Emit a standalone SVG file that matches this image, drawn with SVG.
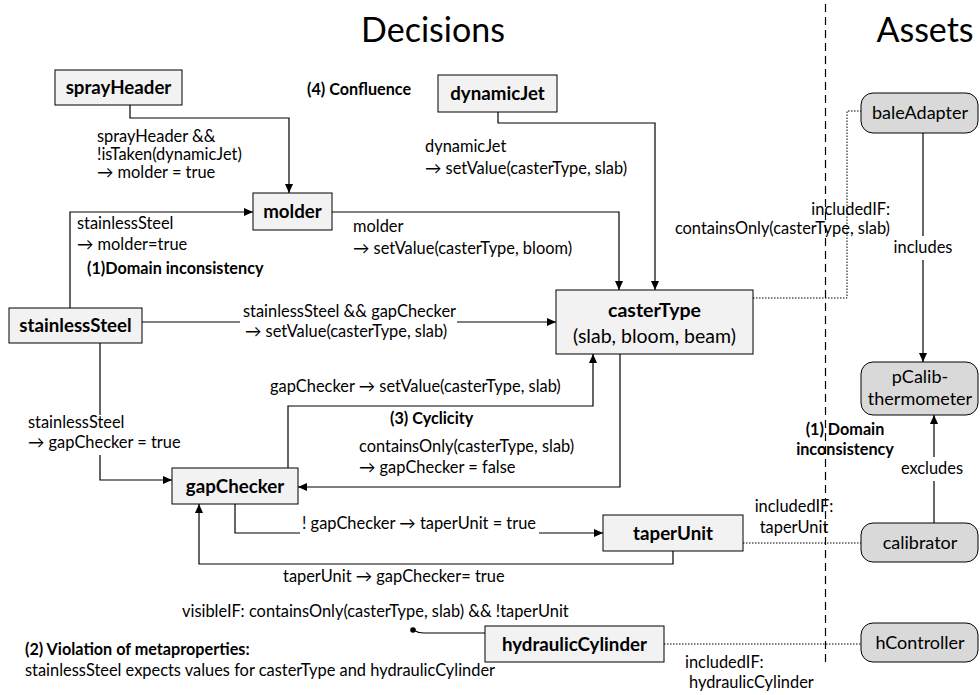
<svg xmlns="http://www.w3.org/2000/svg" width="980" height="695" viewBox="0 0 980 695">
<defs>
<marker id="arr" markerWidth="10" markerHeight="8" refX="9" refY="4" orient="auto" markerUnits="userSpaceOnUse">
<path d="M0,0 L9,4 L0,8 Z" fill="#000"/>
</marker>
<style>
text{font-family:Lato,"Liberation Sans",sans-serif;fill:#000}
.t{font-size:34px}
.n{font-size:18.7px;font-weight:bold;text-anchor:middle}
.nc{font-size:19.5px;font-weight:bold;text-anchor:middle}
.ac{font-size:19.5px;text-anchor:middle}
.a{font-size:18px;text-anchor:middle}
.l{font-size:16.4px}
.b{font-size:16.2px;font-weight:bold}
.c{text-anchor:middle}
.r{text-anchor:end}
.dec{fill:#f2f2f2;stroke:#000;stroke-width:1}
.ast{fill:#d9d9d9;stroke:#000;stroke-width:1}
.e{fill:none;stroke:#000;stroke-width:1.2}
.ea{fill:none;stroke:#000;stroke-width:1.2;marker-end:url(#arr)}
.d{fill:none;stroke:#000;stroke-width:1;stroke-dasharray:1.5,1.5}
.sep{fill:none;stroke:#000;stroke-width:1.2;stroke-dasharray:8,5}
</style>
</defs>
<rect width="980" height="695" fill="#fff"/>
<text class="t c" x="433" y="42">Decisions</text>
<text class="t c" x="925" y="42">Assets</text>
<line class="sep" x1="825.5" y1="4" x2="825.5" y2="662"/>

<g id="connectors">
<path class="ea" d="M130,105 V118 H289 V193"/>
<path class="ea" d="M70,308 V212 H253"/>
<path class="ea" d="M498,112 V123 H655 V290"/>
<path class="ea" d="M332,212 H619 V290"/>
<path class="e" d="M142,322 H240"/>
<path class="ea" d="M457,322 H556"/>
<path class="e" d="M100,343 V415"/>
<path class="ea" d="M100,455 V480 H172"/>
<path class="ea" d="M288,468 V406 H593 V354"/>
<path class="ea" d="M620,354 V487 H298"/>
<path class="e" d="M235,504 V533 H300"/>
<path class="ea" d="M539,533 H603"/>
<path class="ea" d="M673,551 V564 H199 V504"/>
<path class="e" d="M485,633 H424 Q418,633 413,630"/>
<circle cx="413" cy="630" r="2.8" fill="#000"/>
<path class="d" d="M753,298 H847 V111 H861"/>
<path class="d" d="M743,543 H861"/>
<path class="d" d="M664,644 H861"/>
<path class="e" d="M923,133 V236"/>
<path class="ea" d="M923,260 V362"/>
<path class="e" d="M934,523 V481"/>
<path class="ea" d="M934,457 V415"/>
</g>

<g id="labels">
<text class="l" x="97" y="142">sprayHeader &amp;&amp;</text>
<text class="l" x="97" y="160">!isTaken(dynamicJet)</text>
<text class="l" x="97" y="178">→ molder = true</text>
<text class="b" x="307" y="95">(4) Confluence</text>
<text class="l" x="425" y="152">dynamicJet</text>
<text class="l" x="425" y="174">→ setValue(casterType, slab)</text>
<text class="l" x="77" y="229">stainlessSteel</text>
<text class="l" x="77" y="250">→ molder=true</text>
<text class="b" x="87" y="274">(1)Domain inconsistency</text>
<text class="l" x="353" y="232">molder</text>
<text class="l" x="353" y="254">→ setValue(casterType, bloom)</text>
<text class="l r" x="890" y="215">includedIF:</text>
<text class="l r" x="890" y="234">containsOnly(casterType, slab)</text>
<text class="l c" x="923" y="253">includes</text>
<text class="l" x="243" y="317">stainlessSteel &amp;&amp; gapChecker</text>
<text class="l" x="245" y="337">→ setValue(casterType, slab)</text>
<text class="l" x="270" y="392">gapChecker → setValue(casterType, slab)</text>
<text class="b" x="390" y="424">(3) Cyclicity</text>
<text class="l" x="359" y="452">containsOnly(casterType, slab)</text>
<text class="l" x="359" y="473">→ gapChecker = false</text>
<text class="l" x="28" y="428">stainlessSteel</text>
<text class="l" x="28" y="448">→ gapChecker = true</text>
<text class="b c" x="845" y="435">(1) Domain</text>
<text class="b c" x="845" y="455">inconsistency</text>
<text class="l c" x="932" y="474">excludes</text>
<text class="l c" x="794" y="512">includedIF:</text>
<text class="l c" x="794" y="533">taperUnit</text>
<text class="l" x="302" y="529">! gapChecker → taperUnit = true</text>
<text class="l" x="283" y="582">taperUnit → gapChecker= true</text>
<text class="l" x="182" y="617">visibleIF: containsOnly(casterType, slab) &amp;&amp; !taperUnit</text>
<text class="b" x="25" y="655">(2) Violation of metaproperties:</text>
<text class="l" x="25" y="676">stainlessSteel expects values for casterType and hydraulicCylinder</text>
<text class="l" x="685" y="668">includedIF:</text>
<text class="l" x="689" y="688">hydraulicCylinder</text>
</g>

<g id="sprayHeader"><rect class="dec" x="55" y="70" width="127" height="35"/><text class="n" x="118.5" y="94">sprayHeader</text></g>
<g id="dynamicJet"><rect class="dec" x="438" y="75" width="119" height="37"/><text class="n" x="497.5" y="100">dynamicJet</text></g>
<g id="molder"><rect class="dec" x="253" y="193" width="79" height="37"/><text class="n" x="292.5" y="218">molder</text></g>
<g id="stainlessSteel"><rect class="dec" x="9" y="308" width="133" height="35"/><text class="n" x="75.5" y="332">stainlessSteel</text></g>
<g id="casterType"><rect class="dec" x="556" y="290" width="197" height="64"/><text class="nc" x="654.5" y="317">casterType</text><text class="ac" x="654.5" y="343">(slab, bloom, beam)</text></g>
<g id="gapChecker"><rect class="dec" x="172" y="468" width="126" height="36"/><text class="n" x="235" y="492.5">gapChecker</text></g>
<g id="taperUnit"><rect class="dec" x="603" y="515" width="140" height="36"/><text class="n" x="673" y="539.5">taperUnit</text></g>
<g id="hydraulicCylinder"><rect class="dec" x="485" y="626" width="179" height="36"/><text class="n" x="574.5" y="650.5">hydraulicCylinder</text></g>

<g id="baleAdapter"><rect class="ast" x="861" y="93" width="117" height="40" rx="12"/><text class="a" x="920" y="119">baleAdapter</text></g>
<g id="pCalib-thermometer"><rect class="ast" x="861" y="362" width="117" height="53" rx="12"/><text class="a" x="920" y="383">pCalib-</text><text class="a" x="920" y="405">thermometer</text></g>
<g id="calibrator"><rect class="ast" x="861" y="523" width="117" height="39" rx="12"/><text class="a" x="920" y="548.5">calibrator</text></g>
<g id="hController"><rect class="ast" x="861" y="623" width="117" height="39" rx="12"/><text class="a" x="920" y="648.5">hController</text></g>
</svg>
